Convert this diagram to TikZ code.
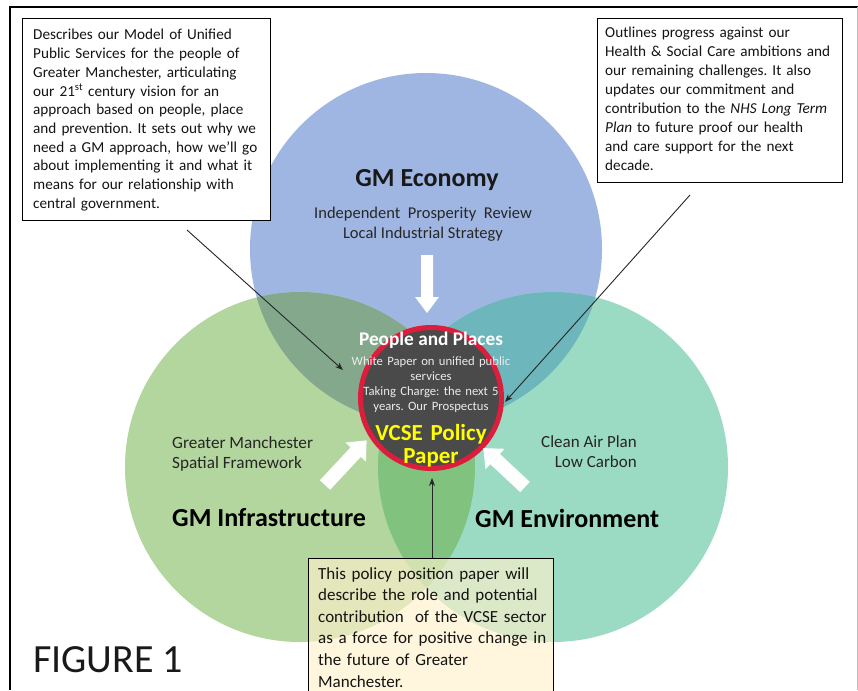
\documentclass[tikz,border=0pt]{standalone}
\usepackage{fontspec}
\setmainfont{Carlito}
\usetikzlibrary{arrows.meta}
\frenchspacing
\definecolor{cblue}{HTML}{A0B6E2}
\definecolor{cgreen}{HTML}{B3D59E}
\definecolor{cteal}{HTML}{9BDBC4}
\definecolor{cbg}{HTML}{84A88C}
\definecolor{cbt}{HTML}{6DB6BB}
\definecolor{cgt}{HTML}{80C27E}
\definecolor{call}{HTML}{6F9C8C}
\definecolor{cdark}{HTML}{4A4A4A}
\definecolor{cred}{HTML}{DC1E3C}
\definecolor{ccream}{HTML}{FFF2CC}
\definecolor{ctxt}{HTML}{262626}
\definecolor{cyell}{HTML}{FFFF00}
\newcommand\blockarrow[6]{% x y angle length shafthalf headhalf
  \fill[white, shift={(#1,#2)}, rotate=#3]
    (0,-#5) -- (#4-16,-#5) -- (#4-16,-#6) -- (#4,0) -- (#4-16,#6) -- (#4-16,#5) -- (0,#5) -- cycle;}
\tikzset{
  notebox/.style={draw=black, line width=0.9pt, fill=white, inner sep=0pt, anchor=north west},
  notetext/.style={anchor=base west, inner sep=0pt, text width=#1, align=left, text=black!92},
  label/.style={inner sep=0pt, text=ctxt},
  thinarrow/.style={draw=black!85, line width=0.9pt, -{Stealth[length=8pt,width=6pt]}},
}
\begin{document}
\frenchspacing
\begin{tikzpicture}[x=1pt,y=-1pt]
\useasboundingbox (0,0) rectangle (858,690);
\fill[white] (0,0) rectangle (858,690);
% circles
\fill[cblue] (426,249) circle (176pt);
\fill[cgreen] (300,467) circle (175pt);
\fill[cteal] (553,467) circle (175pt);
\begin{scope}
  \clip (300,467) circle (175pt);
  \fill[cgt] (553,467) circle (175pt);
\end{scope}
\begin{scope}
  \clip (426,249) circle (176pt);
  \fill[cbg] (300,467) circle (175pt);
  \fill[cbt] (553,467) circle (175pt);
  \clip (300,467) circle (175pt);
  \fill[call] (553,467) circle (175pt);
\end{scope}
% centre disc
\node[circle, fill=cdark, draw=cred, line width=5pt, minimum size=141pt, inner sep=0pt] (core) at (431,398) {};
% block arrows
\blockarrow{427}{255}{-90}{58}{6}{12}
\blockarrow{325}{485}{47}{61}{7}{14}
\blockarrow{525}{487}{137}{57}{7}{14}
% circle labels
\node[label, anchor=base, text=black!90, font=\bfseries\fontsize{26}{30}\selectfont] (econ) at (427,186) {GM Economy};
\node[label, anchor=base, font=\fontsize{16.5}{20}\selectfont] (econa) at (423,218) {Independent\ \ Prosperity\ \ Review};
\node[label, anchor=base, font=\fontsize{16.5}{20}\selectfont] (econb) at (423,238) {Local Industrial Strategy};
\node[label, anchor=base west, font=\fontsize{17.2}{20}\selectfont] (infa) at (172,448) {Greater Manchester};
\node[label, anchor=base west, font=\fontsize{17.2}{20}\selectfont] (infb) at (172,468) {Spatial Framework};
\node[label, anchor=base west, text=black, font=\bfseries\fontsize{26}{30}\selectfont] (infra) at (172,526) {GM Infrastructure};
\node[label, anchor=base east, font=\fontsize{17}{20}\selectfont] (enva) at (637,447) {Clean Air Plan};
\node[label, anchor=base east, font=\fontsize{17}{20}\selectfont] (envb) at (637,467) {Low Carbon};
\node[label, anchor=base west, text=black, font=\bfseries\fontsize{26}{30}\selectfont] (env) at (475,527) {GM Environment};
% centre texts
\node[inner sep=0pt, anchor=base, text=white, font=\bfseries\fontsize{19.3}{22}\selectfont] (pp) at (431,345) {People and Places};
\node[inner sep=0pt, anchor=base, text width=180pt, align=center, text=white!92!black, font=\fontsize{12.7}{15}\selectfont] (wp) at (431,365) {White Paper on unified public\\services\\Taking Charge: the next 5\\years. Our Prospectus};
\node[inner sep=0pt, anchor=base, text width=170pt, align=center, text=cyell, font=\bfseries\fontsize{23}{23}\selectfont] (vcse) at (431,440) {VCSE Policy\\Paper};
% note boxes
\node[notebox, minimum width=248pt, minimum height=202pt] (lbox) at (22,18) {};
\node[notetext=240pt, font=\fontsize{15.2}{18.7}\selectfont] (ltext) at (33,40) {Describes our Model of Unified\\Public Services for the people of\\Greater Manchester, articulating\\our 21\textsuperscript{st} century vision for an\\approach based on people, place\\and prevention. It sets out why we\\need a GM approach, how we'll go\\about implementing it and what it\\means for our relationship with\\central government.};
\node[notebox, minimum width=245pt, minimum height=164pt] (rbox) at (597,18) {};
\node[notetext=240pt, font=\fontsize{15.2}{18.86}\selectfont] (rtext) at (605,38) {Outlines progress against our\\Health \& Social Care ambitions and\\our remaining challenges. It also\\updates our commitment and\\contribution to the \textit{NHS Long Term}\\\textit{Plan} to future proof our health\\and care support for the next\\decade.};
\node[draw=black, line width=0.9pt, fill=ccream, fill opacity=0.65, text opacity=1, inner sep=0pt, anchor=north west, minimum width=245pt, minimum height=150pt] (bbox) at (308,558) {};
\node[notetext=240pt, font=\fontsize{17}{21.6}\selectfont] (btext) at (318,579) {This policy position paper will\\describe the role and potential\\contribution\ \ of the VCSE sector\\as a force for positive change in\\the future of Greater\\Manchester.};
% connectors
\coordinate (ls) at (187,230);
\coordinate (lt) at (343,370);
\coordinate (rs) at (690,195);
\coordinate (rt) at (505,402);
\coordinate (bt) at (432,478);
\draw[thinarrow] (ls) -- (lt);
\draw[thinarrow] (rs) -- (rt);
\draw[thinarrow] (bbox.north -| bt) -- (bt);
% figure label and frame
\node[inner sep=0pt, anchor=base west, text=black!90, font=\fontsize{40}{44}\selectfont] (fig) at (33,672) {FIGURE 1};
\draw[line width=1.5pt] (10,690) -- (10,7) -- (858,7);
\draw[line width=1pt, black!25] (857,7) -- (857,690);
\end{tikzpicture}
\end{document}
